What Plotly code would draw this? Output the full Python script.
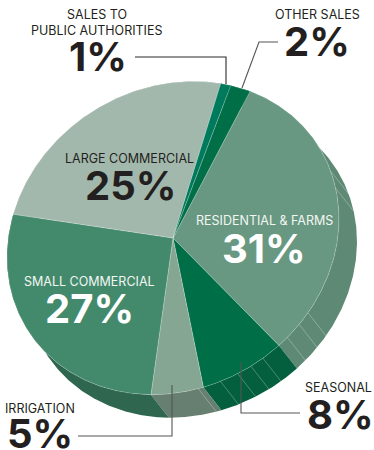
import numpy as np
import plotly.graph_objects as go

# Share of electricity sales by customer class, clockwise from the residential slice
categories = ["Residential & Farms", "Seasonal", "Irrigation", "Small Commercial",
              "Large Commercial", "Sales to Public Authorities", "Other Sales"]
shares = [31, 8, 5, 27, 25, 1, 2]
top_colors = ["#689881", "#006f48", "#84a692", "#438a6c", "#a3b8ac", "#007a5c", "#006f48"]
rim_colors = ["#5e8a75", "#035f3e", "#667f70", "#2e6650", "#a3b8ac", "#007a5c", "#006f48"]

# Pie drawn as a tilted disc: long axis, short axis and tilt of the projected ellipse, in pixels
CX, CY = 173, 238
LONG_AXIS, SHORT_AXIS = 172, 150
TILT = np.radians(57.6)
DX, DY = 18, 23
START_DEG = -33.4
SEAM_BEARINGS = [67, 73, 119, 124.4, 131, 143.2, 148.7, 154.5, 161.7, 170.5]

INK = "#231f20"
LABEL_FONT = "Inter"


def disc_point(psi_rad, dx=0, dy=0):
    """Project a disc angle, measured clockwise from the long axis, onto the page."""
    p, q = LONG_AXIS * np.cos(psi_rad), SHORT_AXIS * np.sin(psi_rad)
    return (CX + dx + p * np.sin(TILT) + q * np.cos(TILT),
            CY + dy - p * np.cos(TILT) + q * np.sin(TILT))


def arc(a0, a1, dx=0, dy=0):
    t = np.radians(np.linspace(a0, a1, max(int(abs(a1 - a0)) * 2, 2)))
    return disc_point(t, dx, dy)


def bearing_to_disc(bearing_deg):
    """Disc angle of the rim point seen at a given compass bearing from the centre."""
    psi = np.radians(bearing_deg) - TILT
    return np.arctan2(LONG_AXIS * np.sin(psi), SHORT_AXIS * np.cos(psi))


total = sum(shares)
edges = START_DEG + np.concatenate([[0], np.cumsum(shares)]) * 360 / total

fig = go.Figure()

# Extruded side of the pie
for i, name in enumerate(categories):
    x0, y0 = arc(edges[i], edges[i + 1])
    x1, y1 = arc(edges[i + 1], edges[i], DX, DY)
    fig.add_trace(go.Scatter(x=np.r_[x0, x1], y=np.r_[y0, y1], mode="lines", fill="toself",
                             fillcolor=rim_colors[i], line=dict(width=0), name=name,
                             hoverinfo="skip", showlegend=False))

# Thin seams across the side wall
for b in SEAM_BEARINGS:
    xa, ya = disc_point(bearing_to_disc(b))
    fig.add_trace(go.Scatter(x=[xa, xa + DX], y=[ya, ya + DY], mode="lines",
                             line=dict(color="rgba(255,255,255,0.4)", width=0.7),
                             hoverinfo="skip", showlegend=False))

# Top face
for i, name in enumerate(categories):
    xa, ya = arc(edges[i], edges[i + 1])
    fig.add_trace(go.Scatter(x=np.r_[CX, xa, CX], y=np.r_[CY, ya, CY], mode="lines", fill="toself",
                             fillcolor=top_colors[i],
                             line=dict(color="rgba(255,255,255,0.35)", width=0.6),
                             name=name, text=f"{name}: {shares[i]}%", hoverinfo="text",
                             showlegend=False))

# Leader lines
leaders = [
    ([135, 226, 226], [57, 57, 84], "#2b2b2b"),
    ([278, 259, 242], [42, 42, 88], "#555555"),
    ([241, 241, 300], [362, 413, 413], "#555555"),
    ([172, 172, 78], [385, 436, 436], "#555555"),
]
for lx, ly, c in leaders:
    fig.add_trace(go.Scatter(x=lx, y=ly, mode="lines", line=dict(color=c, width=1.1),
                             hoverinfo="skip", showlegend=False))

# Category captions and percentages
captions = [
    ("SALES TO", 97, 14, INK, "center"),
    ("PUBLIC AUTHORITIES", 97, 30, INK, "center"),
    ("OTHER SALES", 317, 14, INK, "center"),
    ("LARGE COMMERCIAL", 129, 158, INK, "center"),
    ("RESIDENTIAL &amp; FARMS", 264, 220, "#f2f6f3", "center"),
    ("SMALL COMMERCIAL", 89, 281, "#f2f6f3", "center"),
    ("IRRIGATION", 3, 408, INK, "left"),
    ("SEASONAL", 303, 387, INK, "left"),
]
values = [
    ("1%", 98, 56, INK, "center"),
    ("2%", 317, 41, INK, "center"),
    ("25%", 130, 185, INK, "center"),
    ("31%", 264, 248, "#ffffff", "center"),
    ("27%", 89, 308, "#ffffff", "center"),
    ("5%", 5, 433, INK, "left"),
    ("8%", 340, 414, INK, "center"),
]
for t, x, y, c, al in captions:
    fig.add_annotation(x=x, y=y, text=t, showarrow=False, xanchor=al, yanchor="middle",
                       font=dict(family=LABEL_FONT, size=12.5, color=c))
for t, x, y, c, al in values:
    fig.add_annotation(x=x, y=y, text=f"<b>{t}</b>", showarrow=False, xanchor=al, yanchor="middle",
                       font=dict(family=LABEL_FONT, size=40, color=c))

fig.update_layout(
    width=374, height=450, margin=dict(l=0, r=0, t=0, b=0), autosize=False,
    paper_bgcolor="white", plot_bgcolor="white", showlegend=False,
    xaxis=dict(range=[0, 374], visible=False, fixedrange=True),
    yaxis=dict(range=[450, 0], visible=False, fixedrange=True),
)
fig.write_html("out.html", config=dict(displayModeBar=False))
